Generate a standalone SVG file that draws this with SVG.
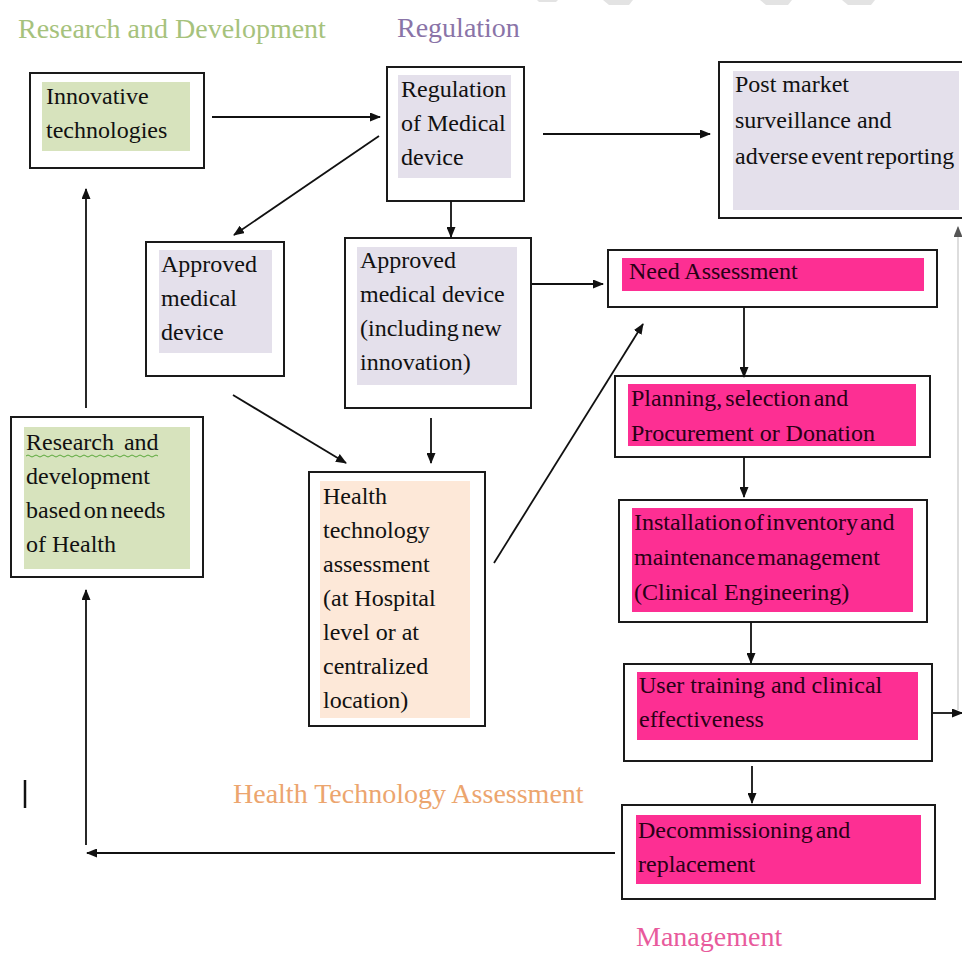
<svg xmlns="http://www.w3.org/2000/svg" width="962" height="954" viewBox="0 0 962 954">
<style>
.box{fill:#fff;stroke:#1a1a1a;stroke-width:2}
.green{fill:#d7e3bd}
.lav{fill:#e4e0eb}
.peach{fill:#fde8d8}
.pink{fill:#fd2f93}
.t{font-family:"Liberation Serif","Times New Roman",serif;font-size:24px;fill:#111}
.tp{font-family:"Liberation Serif","Times New Roman",serif;font-size:24px;fill:#2a0016}
.lbl{font-family:"Liberation Serif","Times New Roman",serif;font-size:28px}
.c{fill:none;stroke:#111;stroke-width:1.8}
</style>
<defs>
<marker id="ah" markerUnits="userSpaceOnUse" markerWidth="11" markerHeight="9" refX="10" refY="4.5" orient="auto">
<path d="M0,0 L11,4.5 L0,9 z" fill="#111"/>
</marker>
<marker id="ahg" markerUnits="userSpaceOnUse" markerWidth="11" markerHeight="9" refX="10" refY="4.5" orient="auto">
<path d="M0,0 L11,4.5 L0,9 z" fill="#555"/>
</marker>
</defs>
<rect width="962" height="954" fill="#fff"/>
<!-- faint top decorations -->
<g fill="#e3e3e3">
<polygon points="537,0 558,0 556,2 539,2"/>
<polygon points="603,0 633,0 629,5 609,5"/>
<polygon points="760,0 792,0 788,5 766,5"/>
<polygon points="842,0 875,0 871,5 848,5"/>
</g>
<!-- section labels -->
<g id="labels">
<text class="lbl" x="18" y="38" fill="#a6c27c">Research and Development</text>
<text class="lbl" x="397" y="37" fill="#8a74a8">Regulation</text>
<text class="lbl" x="233" y="803" fill="#eca56e">Health Technology Assessment</text>
<text class="lbl" x="636" y="946" fill="#e85a9c">Management</text>
</g>
<line x1="25" y1="780" x2="25" y2="808" stroke="#111" stroke-width="2.5"/>
<!-- nodes -->
<g id="innovative">
<rect class="box" x="30" y="73" width="174" height="95"/>
<rect class="green" x="42" y="82" width="148" height="69"/>
<text class="t" x="46" y="104">Innovative</text>
<text class="t" x="46" y="138">technologies</text>
</g>
<g id="regulation">
<rect class="box" x="387" y="67" width="137" height="134"/>
<rect class="lav" x="398" y="75" width="113" height="103"/>
<text class="t" x="401" y="97">Regulation</text>
<text class="t" x="401" y="131">of Medical</text>
<text class="t" x="401" y="165">device</text>
</g>
<g id="postmarket">
<rect class="box" x="719" y="62" width="250" height="156"/>
<rect class="lav" x="733" y="71" width="226" height="139"/>
<text class="t" x="735" y="92">Post market</text>
<text class="t" x="735" y="128">surveillance and</text>
<text class="t" x="735" y="164" word-spacing="-3">adverse event reporting</text>
</g>
<g id="approved">
<rect class="box" x="146" y="242" width="138" height="134"/>
<rect class="lav" x="159" y="250" width="113" height="103"/>
<text class="t" x="161" y="272">Approved</text>
<text class="t" x="161" y="306">medical</text>
<text class="t" x="161" y="340">device</text>
</g>
<g id="approved-new">
<rect class="box" x="345" y="238" width="186" height="170"/>
<rect class="lav" x="357" y="247" width="160" height="138"/>
<text class="t" x="360" y="268">Approved</text>
<text class="t" x="360" y="302">medical device</text>
<text class="t" x="360" y="336" word-spacing="-3">(including new</text>
<text class="t" x="360" y="370">innovation)</text>
</g>
<g id="need">
<rect class="box" x="608" y="250" width="329" height="57"/>
<rect class="pink" x="622" y="258" width="302" height="33"/>
<text class="tp" x="629" y="279">Need Assessment</text>
</g>
<g id="research">
<rect class="box" x="11" y="417" width="192" height="160"/>
<rect class="green" x="24" y="427" width="166" height="142"/>
<text class="t" x="26" y="450" word-spacing="4">Research and</text>
<path d="M26,456 q2,-2 4,0 t4,0 t4,0 t4,0 t4,0 t4,0 t4,0 t4,0 t4,0 t4,0 t4,0 t4,0 t4,0 t4,0 t4,0 t4,0 t4,0 t4,0 t4,0 t4,0 t4,0 t4,0 t4,0 t4,0 t4,0 t4,0 t4,0 t4,0 t4,0 t4,0 t4,0 t4,0 t4,0" fill="none" stroke="#5aa83a" stroke-width="1"/>
<text class="t" x="26" y="484">development</text>
<text class="t" x="26" y="518" word-spacing="-3">based on needs</text>
<text class="t" x="26" y="552">of Health</text>
</g>
<g id="hta">
<rect class="box" x="309" y="472" width="176" height="254"/>
<rect class="peach" x="320" y="481" width="150" height="237"/>
<text class="t" x="323" y="504">Health</text>
<text class="t" x="323" y="538">technology</text>
<text class="t" x="323" y="572">assessment</text>
<text class="t" x="323" y="606">(at Hospital</text>
<text class="t" x="323" y="640">level or at</text>
<text class="t" x="323" y="674">centralized</text>
<text class="t" x="323" y="708">location)</text>
</g>
<g id="planning">
<rect class="box" x="615" y="376" width="315" height="81"/>
<rect class="pink" x="628" y="384" width="288" height="62"/>
<text class="tp" x="631" y="406" word-spacing="-3">Planning, selection and</text>
<text class="tp" x="631" y="441">Procurement or Donation</text>
</g>
<g id="installation">
<rect class="box" x="619" y="500" width="308" height="122"/>
<rect class="pink" x="632" y="508" width="281" height="104"/>
<text class="tp" x="634" y="530" word-spacing="-4">Installation of inventory and</text>
<text class="tp" x="634" y="565" word-spacing="-4">maintenance management</text>
<text class="tp" x="634" y="600">(Clinical Engineering)</text>
</g>
<g id="training">
<rect class="box" x="624" y="664" width="308" height="97"/>
<rect class="pink" x="637" y="672" width="281" height="68"/>
<text class="tp" x="639" y="693">User training and clinical</text>
<text class="tp" x="639" y="727">effectiveness</text>
</g>
<g id="decommissioning">
<rect class="box" x="622" y="805" width="313" height="94"/>
<rect class="pink" x="636" y="815" width="285" height="69"/>
<text class="tp" x="638" y="838" word-spacing="-3">Decommissioning and</text>
<text class="tp" x="638" y="872">replacement</text>
</g>
<!-- connectors -->
<g id="connectors">
<path class="c" d="M212,117 H380" marker-end="url(#ah)"/>
<path class="c" d="M379,136 L234,235" marker-end="url(#ah)"/>
<path class="c" d="M451,201 V237" marker-end="url(#ah)"/>
<path class="c" d="M543,134 H710" marker-end="url(#ah)"/>
<path class="c" d="M532,284 H603" marker-end="url(#ah)"/>
<path class="c" d="M233,395 L346,463" marker-end="url(#ah)"/>
<path class="c" d="M431,418 V463" marker-end="url(#ah)"/>
<path class="c" d="M494,563 L643,324" marker-end="url(#ah)"/>
<path class="c" d="M744,307 V377" marker-end="url(#ah)"/>
<path class="c" d="M744,457 V497" marker-end="url(#ah)"/>
<path class="c" d="M751,622 V663" marker-end="url(#ah)"/>
<path class="c" d="M752,766 V803" marker-end="url(#ah)"/>
<path class="c" d="M933,713 H962" marker-end="url(#ah)"/>
<path d="M958,710 V227" fill="none" stroke="#d2d2d2" stroke-width="1.5" marker-end="url(#ahg)"/>
<path class="c" d="M615,853 H87" marker-end="url(#ah)"/>
<path class="c" d="M86,845 V590" marker-end="url(#ah)"/>
<path class="c" d="M86,408 V189" marker-end="url(#ah)"/>
</g>
</svg>
